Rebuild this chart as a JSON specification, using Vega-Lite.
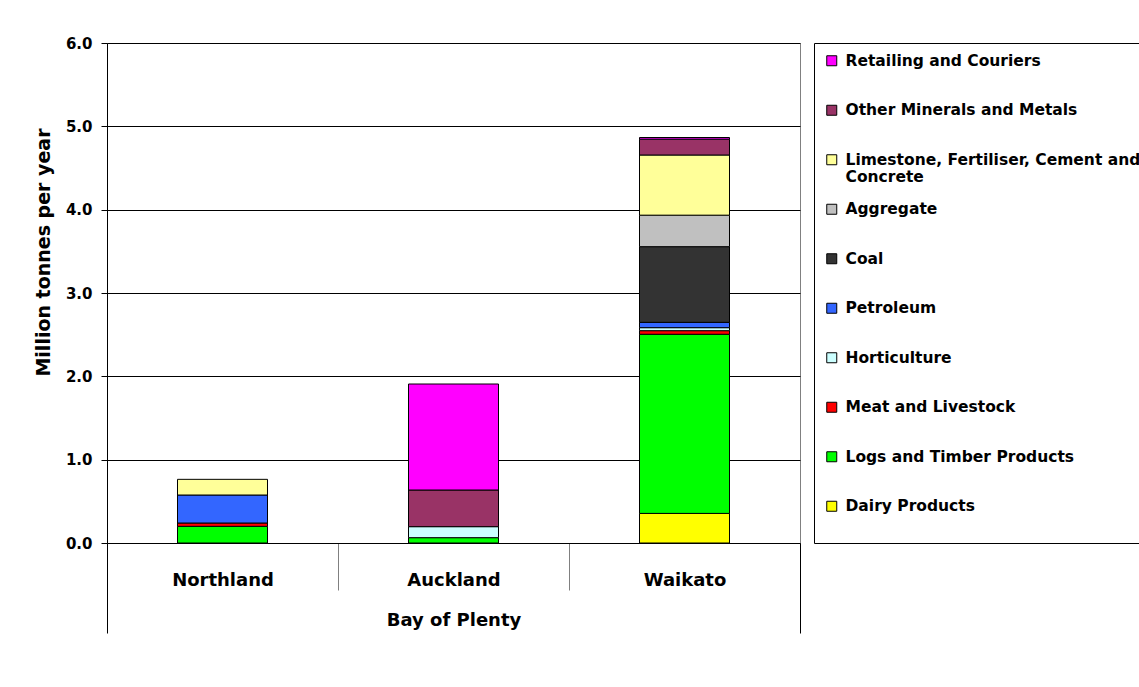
{
  "$schema": "https://vega.github.io/schema/vega-lite/v6.json",
  "width": 693,
  "height": 500,
  "autosize": {"type": "none"},
  "padding": {"left": 107, "top": 43, "right": 339, "bottom": 144},
  "background": "white",
  "config": {"font": "DejaVu Sans", "view": {"stroke": "#808080", "strokeWidth": 1}},
  "data": {"values": [
    {"region": "Northland", "group": "Bay of Plenty", "commodity": "Logs and Timber Products", "value": 0.20},
    {"region": "Northland", "group": "Bay of Plenty", "commodity": "Meat and Livestock", "value": 0.04},
    {"region": "Northland", "group": "Bay of Plenty", "commodity": "Petroleum", "value": 0.336},
    {"region": "Northland", "group": "Bay of Plenty", "commodity": "Limestone, Fertiliser, Cement and Concrete", "value": 0.188},
    {"region": "Auckland", "group": "Bay of Plenty", "commodity": "Logs and Timber Products", "value": 0.064},
    {"region": "Auckland", "group": "Bay of Plenty", "commodity": "Horticulture", "value": 0.132},
    {"region": "Auckland", "group": "Bay of Plenty", "commodity": "Other Minerals and Metals", "value": 0.44},
    {"region": "Auckland", "group": "Bay of Plenty", "commodity": "Retailing and Couriers", "value": 1.272},
    {"region": "Waikato", "group": "Bay of Plenty", "commodity": "Dairy Products", "value": 0.355},
    {"region": "Waikato", "group": "Bay of Plenty", "commodity": "Logs and Timber Products", "value": 2.15},
    {"region": "Waikato", "group": "Bay of Plenty", "commodity": "Meat and Livestock", "value": 0.043},
    {"region": "Waikato", "group": "Bay of Plenty", "commodity": "Horticulture", "value": 0.036},
    {"region": "Waikato", "group": "Bay of Plenty", "commodity": "Petroleum", "value": 0.064},
    {"region": "Waikato", "group": "Bay of Plenty", "commodity": "Coal", "value": 0.908},
    {"region": "Waikato", "group": "Bay of Plenty", "commodity": "Aggregate", "value": 0.378},
    {"region": "Waikato", "group": "Bay of Plenty", "commodity": "Limestone, Fertiliser, Cement and Concrete", "value": 0.722},
    {"region": "Waikato", "group": "Bay of Plenty", "commodity": "Other Minerals and Metals", "value": 0.19},
    {"region": "Waikato", "group": "Bay of Plenty", "commodity": "Retailing and Couriers", "value": 0.02}
  ]},
  "layer": [
    {
      "transform": [
        {"calculate": "indexof(['Dairy Products', 'Logs and Timber Products', 'Meat and Livestock', 'Horticulture', 'Petroleum', 'Coal', 'Aggregate', 'Limestone, Fertiliser, Cement and Concrete', 'Other Minerals and Metals', 'Retailing and Couriers'], datum.commodity)", "as": "stack_order"}
      ],
      "mark": {"type": "bar", "stroke": "#000000", "strokeWidth": 1, "width": 90},
      "encoding": {
        "x": {
          "field": "region", "type": "nominal",
          "sort": ["Northland", "Auckland", "Waikato"],
          "scale": {"paddingInner": 0, "paddingOuter": 0},
          "axis": {
            "orient": "bottom", "title": null, "tickBand": "extent", "tickSize": 47,
            "tickColor": "#808080", "domainColor": "#000000", "labelAngle": 0,
            "labelFontSize": 18, "labelFontWeight": "bold", "labelColor": "#000000",
            "labelBaseline": "middle", "labelPadding": -10, "grid": false
          }
        },
        "y": {
          "field": "value", "type": "quantitative", "stack": "zero",
          "scale": {"domain": [0, 6]},
          "axis": {
            "title": "Million tonnes per year", "values": [0, 1, 2, 3, 4, 5, 6], "format": ".1f",
            "labelFontSize": 15, "labelFontWeight": "bold", "labelColor": "#000000",
            "tickSize": 6, "tickColor": "#000000", "labelPadding": 9, "domainColor": "#000000",
            "grid": true, "gridColor": "#000000", "gridWidth": 1,
            "titleFontSize": 19, "titleFontWeight": "bold", "titleColor": "#000000",
            "titleX": -54, "titleY": 209
          }
        },
        "order": {"field": "stack_order", "type": "quantitative", "sort": "ascending"},
        "color": {
          "field": "commodity", "type": "nominal",
          "scale": {
            "domain": ["Dairy Products", "Logs and Timber Products", "Meat and Livestock", "Horticulture", "Petroleum", "Coal", "Aggregate", "Limestone, Fertiliser, Cement and Concrete", "Other Minerals and Metals", "Retailing and Couriers"],
            "range": ["#FFFF00", "#00FF00", "#FF0000", "#CCFFFF", "#3366FF", "#333333", "#C0C0C0", "#FFFF99", "#993366", "#FF00FF"]
          },
          "legend": {
            "orient": "none", "legendX": 707, "legendY": 0, "title": null,
            "values": ["Retailing and Couriers", "Other Minerals and Metals", "Limestone, Fertiliser, Cement and Concrete", "Aggregate", "Coal", "Petroleum", "Horticulture", "Meat and Livestock", "Logs and Timber Products", "Dairy Products"],
            "symbolType": "square", "symbolSize": 100, "symbolStrokeColor": "#000000", "symbolStrokeWidth": 1, "symbolOpacity": 1,
            "labelFontSize": 15.5, "labelFontWeight": "bold", "labelColor": "#000000", "labelOffset": 6, "labelLimit": 400,
            "rowPadding": 15.5, "padding": 10, "strokeColor": "#000000", "fillColor": "#FFFFFF",
            "labelExpr": "datum.label == 'Limestone, Fertiliser, Cement and Concrete' ? ['Limestone, Fertiliser, Cement and', 'Concrete'] : [datum.label, '']"
          }
        }
      }
    },
    {
      "mark": {"type": "point", "opacity": 0},
      "encoding": {
        "x": {
          "field": "group", "type": "nominal",
          "scale": {"paddingInner": 0, "paddingOuter": 0},
          "axis": {
            "orient": "bottom", "title": null, "tickBand": "extent", "tickSize": 90,
            "tickColor": "#000000", "domain": false, "labelAngle": 0,
            "labelFontSize": 18, "labelFontWeight": "bold", "labelColor": "#000000",
            "labelBaseline": "middle", "labelPadding": -13, "grid": false
          }
        }
      }
    }
  ],
  "resolve": {"scale": {"x": "independent"}, "axis": {"x": "independent"}}
}
